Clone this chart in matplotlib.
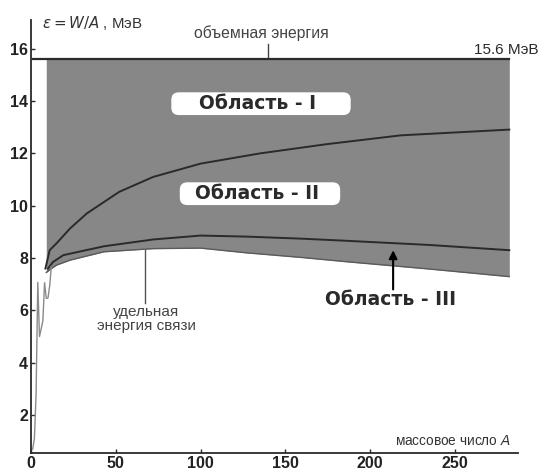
import matplotlib
matplotlib.use("Agg")
import matplotlib.pyplot as plt

# mass number A and binding energy per nucleon (MeV)
light_A = [1, 2, 3, 4, 5, 6, 7, 8, 9, 10, 11, 12]
light_E = [0.7, 1.1, 2.8, 7.07, 5.0, 5.3, 5.6, 7.06, 6.46, 6.47, 6.93, 7.68]

lower_A = [9, 12, 15, 23, 43, 72, 100, 127, 160, 186, 235, 282]
lower_E = [7.45, 7.6, 7.73, 7.92, 8.24, 8.36, 8.38, 8.2, 8.02, 7.86, 7.58, 7.29]

middle_A = [10, 13, 19, 43, 72, 100, 127, 160, 186, 235, 282]
middle_E = [7.6, 7.85, 8.11, 8.45, 8.71, 8.86, 8.82, 8.74, 8.66, 8.5, 8.3]

upper_A = [8.5, 11, 15, 23, 33, 52, 72, 100, 135, 174, 218, 282]
upper_E = [7.6, 8.3, 8.56, 9.13, 9.71, 10.53, 11.1, 11.61, 12.0, 12.35, 12.69, 12.91]

volume_energy = 15.6

x_ticks = [0, 50, 100, 150, 200, 250]
y_ticks = [2, 4, 6, 8, 10, 12, 14, 16]

plt.rcParams['font.family'] = ['Liberation Sans', 'DejaVu Sans']
plt.rcParams['mathtext.fontset'] = 'dejavusans'

fig = plt.figure(figsize=(5.41, 4.72), dpi=100)
ax = fig.add_axes([0.0573, 0.0403, 0.8998, 0.9174])

dark = '#2a2a2a'

# shaded area between binding energy and volume energy
ax.fill_between(lower_A, lower_E, volume_energy, color='#878787', lw=0)
ax.plot(lower_A, lower_E, color='#5a5a5a', lw=1.0)
ax.plot(middle_A, middle_E, color=dark, lw=1.4)
ax.plot(upper_A, upper_E, color=dark, lw=1.4)
ax.plot([1, lower_A[-1]], [volume_energy, volume_energy], color=dark, lw=1.6)
ax.plot(light_A, light_E, color='#8a8a8a', lw=1.0)

# region labels
region_font = dict(fontsize=13.5, fontweight='bold', color=dark,
                   family=['DejaVu Sans'])
box = dict(boxstyle='round,pad=0.1,rounding_size=0.4', fc='white', ec='none')
ax.text(135.6, 13.9, "    Область - I     ", ha='center', va='center',
        bbox=box, **region_font)
ax.text(135, 10.46, "  Область - II   ", ha='center', va='center',
        bbox=box, **region_font)
ax.text(212, 6.4, "Область - III", ha='center', va='center', **region_font)
ax.annotate("", xy=(213.5, 8.3), xytext=(213.5, 6.8),
            arrowprops=dict(arrowstyle='-|>', color='black', lw=1.5,
                            mutation_scale=12, shrinkA=0, shrinkB=0))

# binding energy note
ax.plot([67.5, 67.5], [8.3, 6.3], color='#555555', lw=1.0)
ax.text(67.8, 5.67, "удельная\nэнергия связи", ha='center', va='center',
        fontsize=11, color='#444444', linespacing=1.0)

# volume energy note
ax.text(136, 16.58, "объемная энергия", ha='center', va='center',
        fontsize=11.3, color='#444444')
ax.plot([139.7, 139.7], [16.2, 15.7], color='#444444', lw=1.0)
ax.text(299, 15.95, "15.6 МэВ", ha='right', va='center', fontsize=11,
        color=dark, clip_on=False)

# axis captions
ax.text(6.5, 17.0, r"$\varepsilon = W/A$ , МэВ", ha='left', va='center',
        fontsize=10.8, color='#333333', clip_on=False)
ax.text(283, 1.0, "массовое число $A$", ha='right', va='center',
        fontsize=9.8, color='#333333')

ax.set_xlim(0, 287)
ax.set_ylim(0.55, 17.1)
ax.set_xticks(x_ticks)
ax.set_yticks(y_ticks)
for side in ['top', 'right']:
    ax.spines[side].set_visible(False)
for side in ['left', 'bottom']:
    ax.spines[side].set_color(dark)
    ax.spines[side].set_linewidth(1.3)
ax.tick_params(direction='in', length=3, width=1, colors=dark,
               labelsize=11.5, pad=2)
for lab in ax.get_xticklabels() + ax.get_yticklabels():
    lab.set_fontweight('bold')
    lab.set_color('#222222')

fig.savefig('out.png', dpi=100)
